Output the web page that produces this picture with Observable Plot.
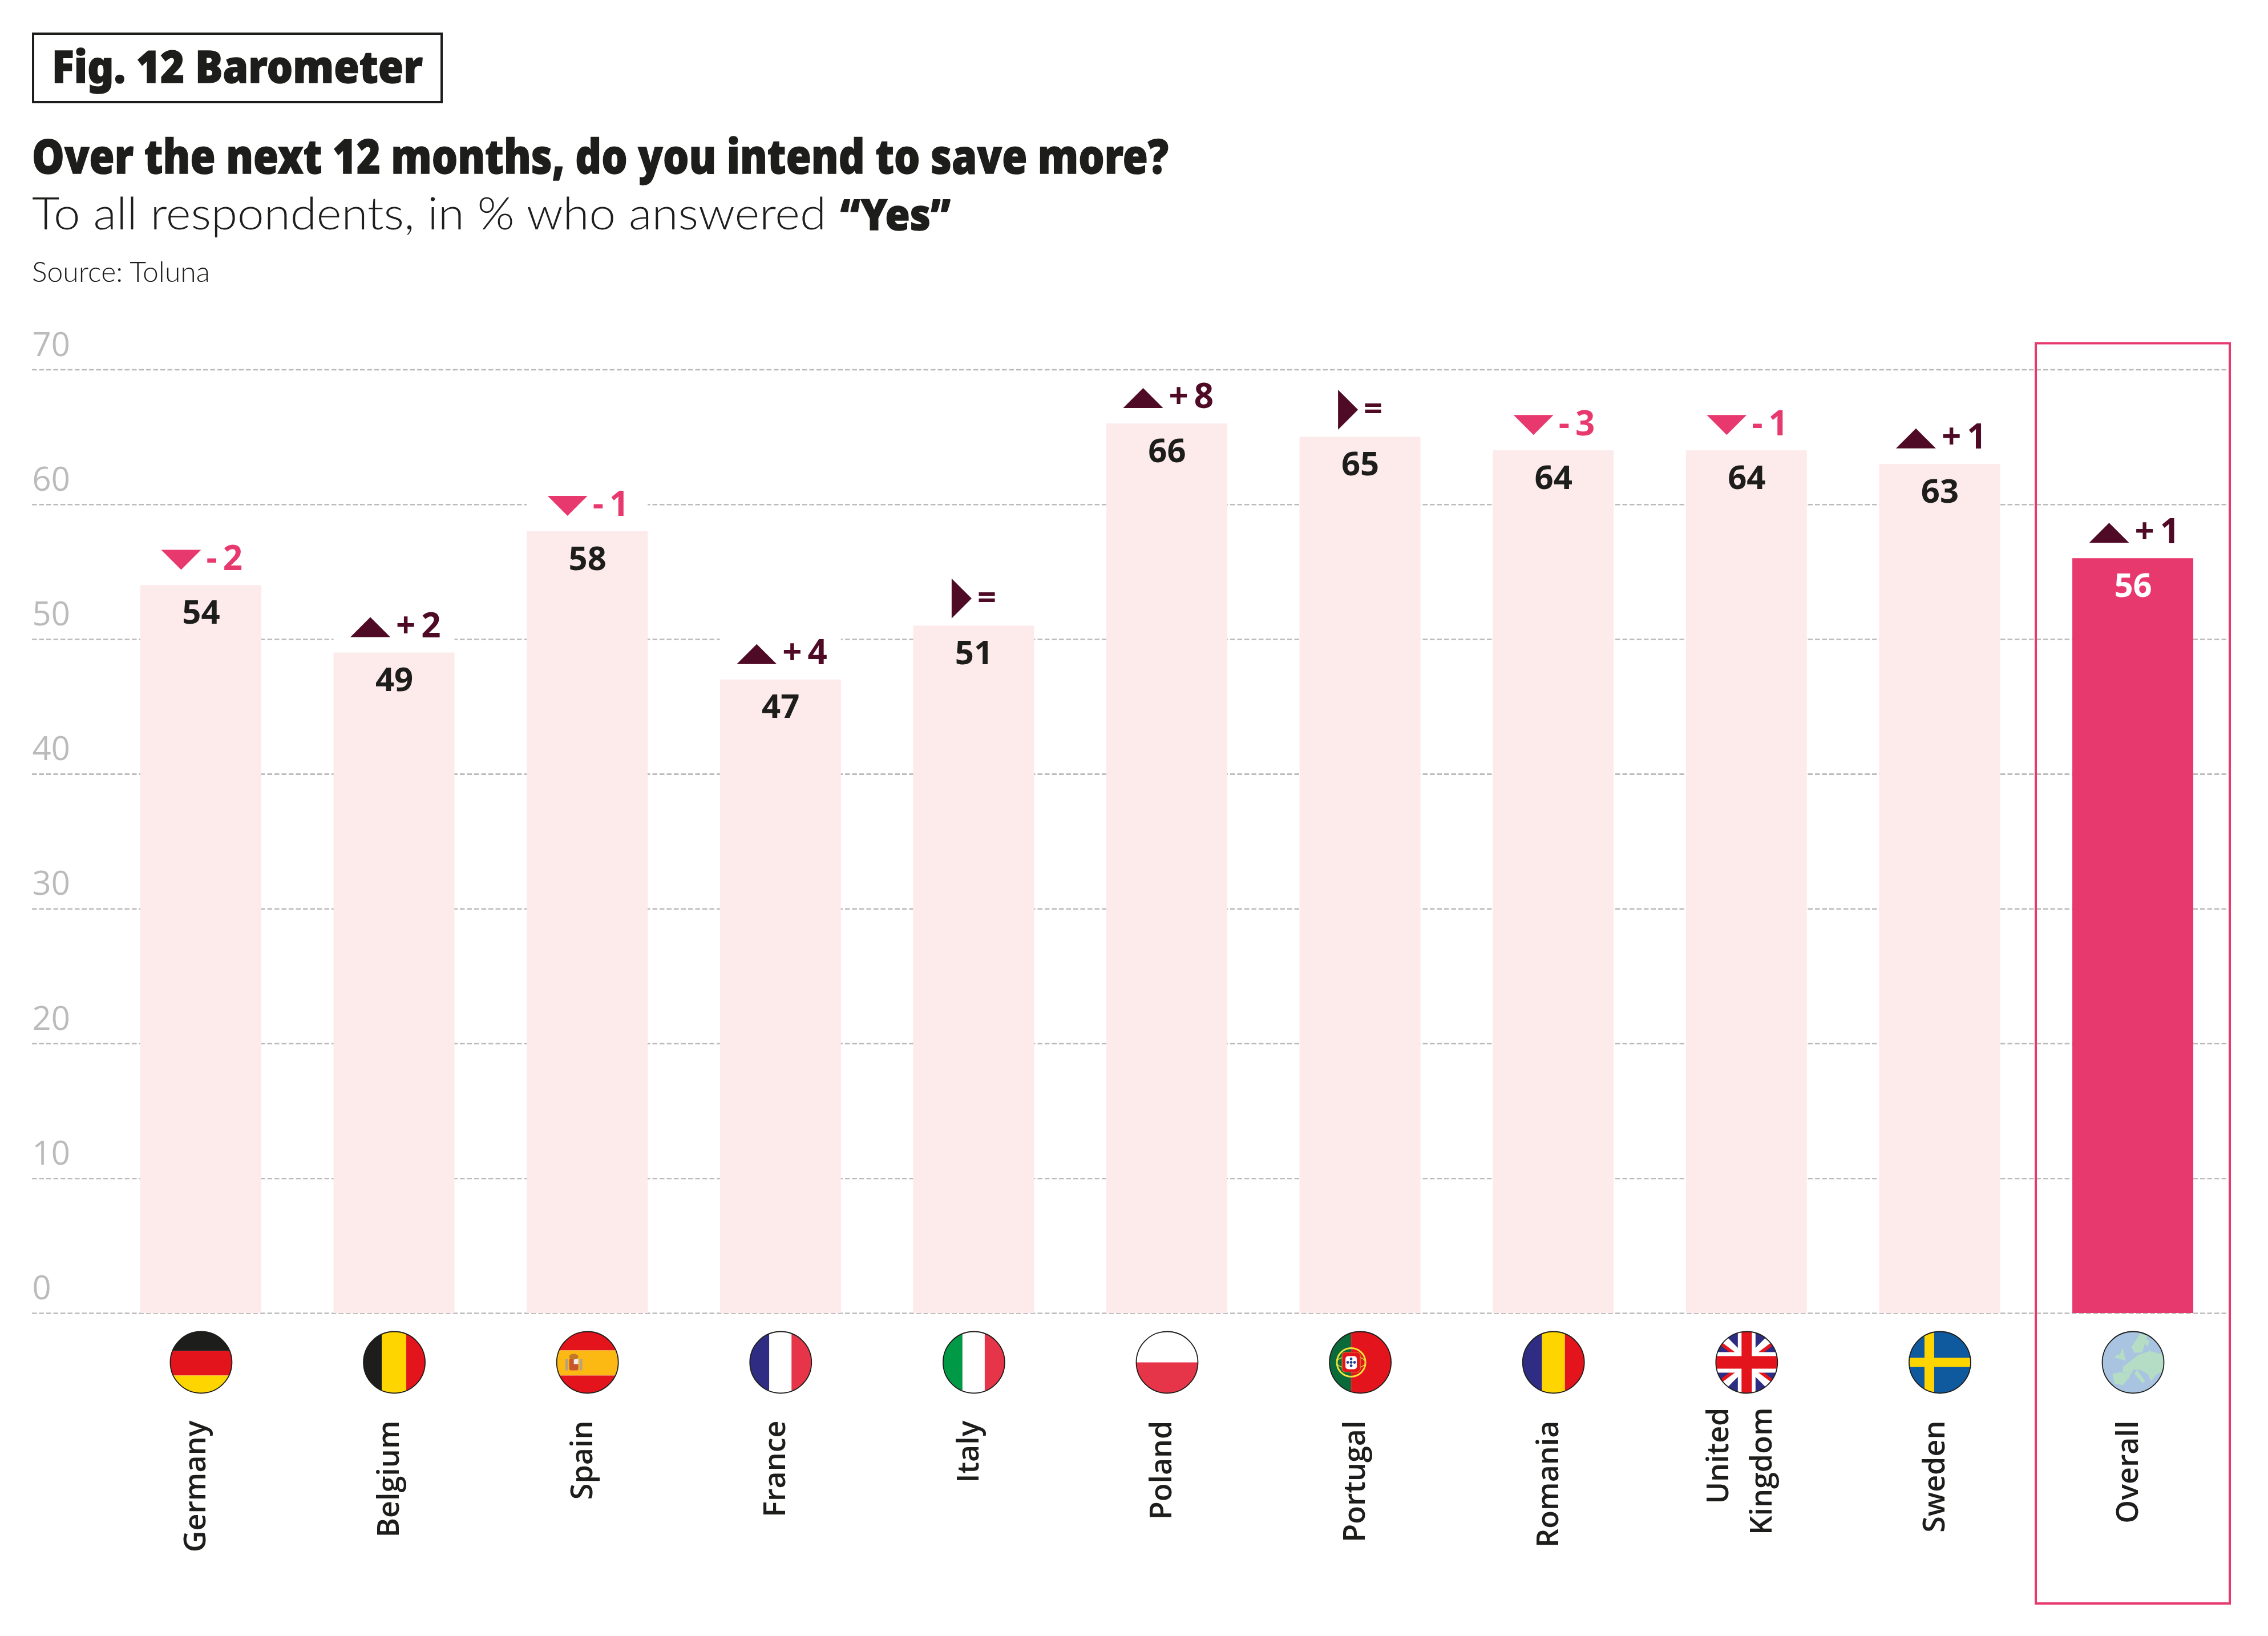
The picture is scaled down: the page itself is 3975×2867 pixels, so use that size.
<!DOCTYPE html>
<html><head><meta charset="utf-8">
<script src="https://cdn.jsdelivr.net/npm/d3@7"></script>
<script src="https://cdn.jsdelivr.net/npm/@observablehq/plot@0.6"></script>
<style>
html,body{margin:0;padding:0;background:#fff}
#page{position:relative;width:3975px;height:2867px;overflow:hidden;background:#fff;color:#1d1d1b}
#head{position:relative;height:560px}
.t{position:absolute;left:56px;white-space:nowrap;transform-origin:0 0;line-height:1}
#tag{position:absolute;left:56px;top:57px;width:720px;height:124px;border:4px solid #1d1d1b;box-sizing:border-box}
#fig{left:91px;top:62px;font:900 78px "Noto Sans";-webkit-text-stroke:1.5px #1d1d1b}
#q{top:215px;font:900 83px "Noto Sans";-webkit-text-stroke:1.5px #1d1d1b}
#sub{top:325px;font:300 78px "Lato"}
#yes{left:1473px;top:324px;font:900 74px "Noto Sans";-webkit-text-stroke:1.5px #1d1d1b}
#src{top:445px;font:300 50px "Lato"}
#chart svg{display:block;max-width:none}
</style></head><body>
<div id="page"><div id="head">
<div id="tag"></div>
<div class="t" id="fig" data-w="650">Fig. 12 Barometer</div>
<div class="t" id="q" data-w="1992">Over the next 12 months, do you intend to save more?</div>
<div class="t" id="sub" data-w="1392">To all respondents, in % who answered</div>
<div class="t" id="yes" data-w="193">“Yes”</div>
<div class="t" id="src" data-w="312">Source: Toluna</div>
</div><div id="chart"></div></div>
<script>
const countries = ["Germany","Belgium","Spain","France","Italy","Poland","Portugal","Romania","United Kingdom","Sweden","Overall"];
const axisLabels = ["Germany","Belgium","Spain","France","Italy","Poland","Portugal","Romania","United\nKingdom","Sweden","Overall"];
const values = [54,49,58,47,51,66,65,64,64,63,56];
const deltas = [-2,2,-1,4,0,8,0,-3,-1,1,1];
const gridTicks = [0,10,20,30,40,50,60,70];
const dark="#4f0a26", pink="#e8396e", pale="#fdeaeb", ink="#1d1d1b", grey="#bbbbbb";
const red="#e3141b", red2="#e63549", yel="#ffd500", nav="#2e2d83";

const rows = countries.map((c,i)=>({country:c,label:axisLabels[i],value:values[i],delta:deltas[i],
  text:deltas[i]===0?"=":(deltas[i]>0?"+":"-")+"\u2009"+Math.abs(deltas[i])}));
const main = rows.filter(d=>d.country!=="Overall");
const overall = rows.filter(d=>d.country==="Overall");

const vs=(x1,x2,c)=>`<rect x="${x1}" y="-54" width="${x2-x1}" height="108" fill="${c}"/>`;
const hs=(y1,y2,c)=>`<rect x="-54" y="${y1}" width="108" height="${y2-y1}" fill="${c}"/>`;
const poly=(p,c)=>`<polygon points="${p}" fill="${c}"/>`;
const flagArt = {
 "Germany": hs(-54,-20,ink)+hs(-20,23,red)+hs(23,54,yel),
 "Belgium": vs(-54,-22,ink)+vs(-22,21,yel)+vs(21,54,red),
 "Spain": hs(-54,-21,red)+hs(-21,23,"#fdb913")+hs(23,54,red)+
   `<rect x="-39" y="-6" width="5" height="20" fill="#b9a27c"/><rect x="-14" y="-6" width="5" height="20" fill="#b9a27c"/><rect x="-32" y="-7" width="16" height="21" rx="3" fill="#c8552b"/><rect x="-24" y="-6" width="8" height="9" fill="#eee"/><ellipse cx="-24" cy="-10" rx="8" ry="5" fill="#c0772a"/>`,
 "France": vs(-54,-20,nav)+vs(-20,19,"#fff")+vs(19,54,red2),
 "Italy": vs(-54,-20,"#009a46")+vs(-20,19,"#fff")+vs(19,54,red2),
 "Poland": hs(-54,0,"#fff")+hs(0,54,red2),
 "Portugal": vs(-54,-16,"#0a6a3a")+vs(-16,54,red)+
   `<circle cx="-16" cy="0" r="25" fill="none" stroke="#f3e23a" stroke-width="3"/><ellipse cx="-16" cy="0" rx="25" ry="11" fill="none" stroke="#d9cf3a" stroke-width="1.5"/><rect x="-32" y="-18" width="32" height="35" rx="6" fill="#e3141b" stroke="#c9a227" stroke-width="1"/><rect x="-26" y="-11" width="20" height="23" rx="5" fill="#fff"/><circle cx="-16" cy="-6" r="2.4" fill="#24408e"/><circle cx="-16" cy="0" r="2.4" fill="#24408e"/><circle cx="-16" cy="6" r="2.4" fill="#24408e"/><circle cx="-22" cy="0" r="2.4" fill="#24408e"/><circle cx="-10" cy="0" r="2.4" fill="#24408e"/>`,
 "Romania": vs(-54,-20,nav)+vs(-20,20,yel)+vs(20,54,red),
 "United Kingdom": hs(-54,54,nav)+
   poly("-54,-44 -44,-54 54,44 44,54","#fff")+poly("54,-44 44,-54 -54,44 -44,54","#fff")+
   poly("-54,-36 -50,-40 -14,-13 -24,-13","#e3141b")+poly("54,36 50,40 14,13 24,13","#e3141b")+
   poly("54,-36 50,-40 14,-13 24,-13","#e3141b")+poly("-54,36 -50,40 -14,13 -24,13","#e3141b")+
   vs(-15.5,15.5,"#fff")+hs(-18,18,"#fff")+vs(-9,9,"#e3141b")+hs(-11,11,"#e3141b"),
 "Sweden": hs(-54,54,"#0f5a9e")+vs(-27,-10,yel)+hs(-8,8,yel),
 "Overall": hs(-54,54,"#a8c4e0")+["-36,20 -24,17 -4,20 -8,28 -18,40 -33,37","-18,8 -4,-3 1,7 -1,17 -4,20 -18,17",
   "-4,-3 9,-13 29,-20 55,-13 55,13 39,23 32,33 25,20 12,13 1,13","7,13 21,33 17,37 2,20","-3,-27 12,-50 25,-47 16,-17 2,-17",
   "19,-43 29,-37 25,-27 21,-33","-18,-25 -13,-3 -28,-7 -24,-13","-32,-10 -25,-15 -25,-8 -31,-7"].map(p=>poly(p,"#b5dcc4")).join("")
};
const flag = c => "data:image/svg+xml;utf8,"+encodeURIComponent(
 `<svg xmlns="http://www.w3.org/2000/svg" viewBox="-56 -56 112 112" width="112" height="112"><clipPath id="c"><circle r="54"/></clipPath><g clip-path="url(#c)">${flagArt[c]}</g><circle r="54" fill="none" stroke="${ink}" stroke-width="1.8"/></svg>`);

// Triangle glyphs for the change markers
const tri = pts => ({draw(ctx){ctx.moveTo(...pts[0]);ctx.lineTo(...pts[1]);ctx.lineTo(...pts[2]);ctx.closePath();}});
const up = tri([[-35,17.5],[35,17.5],[0,-17.5]]);
const down = tri([[-35,-17.5],[35,-17.5],[0,17.5]]);
const flat = tri([[-17.5,-35],[17.5,0],[-17.5,35]]);

const dotMark=(data,symbol,fill,dx,dy)=>Plot.dot(data,{x:"country",y:"value",symbol,fill,stroke:"none",r:10,dx,dy});
const labelFont={fontFamily:"Open Sans",fontWeight:700};

const chart = Plot.plot({
  width:3975,height:2307,marginLeft:56,marginRight:68,marginTop:87.5,marginBottom:566,
  style:{fontFamily:"Open Sans",background:"#fff",overflow:"visible"},
  x:{type:"band",domain:countries,paddingInner:0.374,paddingOuter:0.3735,align:0.751,round:false,axis:null},
  y:{domain:[0,70],label:null},
  marks:[
    Plot.ruleY(gridTicks,{stroke:grey,strokeWidth:2.6,strokeDasharray:"8.5 4"}),
    Plot.axisY({ticks:gridTicks,tickSize:0,tickPadding:0,textAnchor:"start",anchor:"left",dx:0,dy:-43,fontSize:58,fontWeight:500,color:grey,label:null,fontFamily:"Open Sans"}),
    Plot.barY(main,{x:"country",y1:"value",y2:d=>d.value+3.5,fill:"#fff"}),
    Plot.barY(main,{x:"country",y:"value",fill:pale}),
    Plot.barY(overall,{x:"country",y:"value",fill:pink}),
    Plot.barY(overall,{x:"country",y1:0,y2:70,fill:"none",stroke:pink,strokeWidth:4,insetLeft:-64,insetRight:-64,insetTop:-46,insetBottom:-509}),
    Plot.text(main,{x:"country",y:"value",text:d=>String(d.value),lineAnchor:"top",dy:26,fontSize:58,fill:ink,...labelFont}),
    Plot.text(overall,{x:"country",y:"value",text:d=>String(d.value),lineAnchor:"top",dy:26,fontSize:58,fill:"#fff",...labelFont}),
    dotMark(rows.filter(d=>d.delta>0),up,dark,-42,-45),
    dotMark(rows.filter(d=>d.delta<0),down,pink,-35,-45),
    dotMark(rows.filter(d=>d.delta===0),flat,dark,-21.5,-48),
    Plot.text(rows.filter(d=>d.delta>0),{x:"country",y:"value",text:"text",textAnchor:"start",lineAnchor:"bottom",dx:3,dy:-27,fontSize:60,fill:dark,...labelFont}),
    Plot.text(rows.filter(d=>d.delta<0),{x:"country",y:"value",text:"text",textAnchor:"start",lineAnchor:"bottom",dx:9,dy:-27,fontSize:60,fill:pink,...labelFont}),
    Plot.text(rows.filter(d=>d.delta===0),{x:"country",y:"value",text:"text",textAnchor:"start",lineAnchor:"bottom",dx:6,dy:-30,fontSize:58,fill:dark,...labelFont}),
    Plot.image(rows,{x:"country",src:d=>flag(d.country),width:112,height:112,frameAnchor:"bottom",dy:86}),
    Plot.text(rows.filter(d=>!d.label.includes("\n")),{x:"country",text:"label",rotate:-90,textAnchor:"end",lineAnchor:"bottom",frameAnchor:"bottom",dx:8,dy:188,fontSize:52,fontWeight:600,fill:ink}),
    Plot.text(rows.filter(d=>d.label.includes("\n")),{x:"country",text:"label",rotate:-90,textAnchor:"end",lineAnchor:"bottom",frameAnchor:"bottom",lineHeight:1.46,dx:44,dy:165,fontSize:52,fontWeight:600,fill:ink})
  ]
});
document.getElementById("chart").appendChild(chart);
// Fit each header line to its measured width in the reference
document.querySelectorAll(".t").forEach(el=>{
  const w=el.getBoundingClientRect().width, target=+el.dataset.w;
  el.style.transform=`scaleX(${target/w})`;
});
</script></body></html>
